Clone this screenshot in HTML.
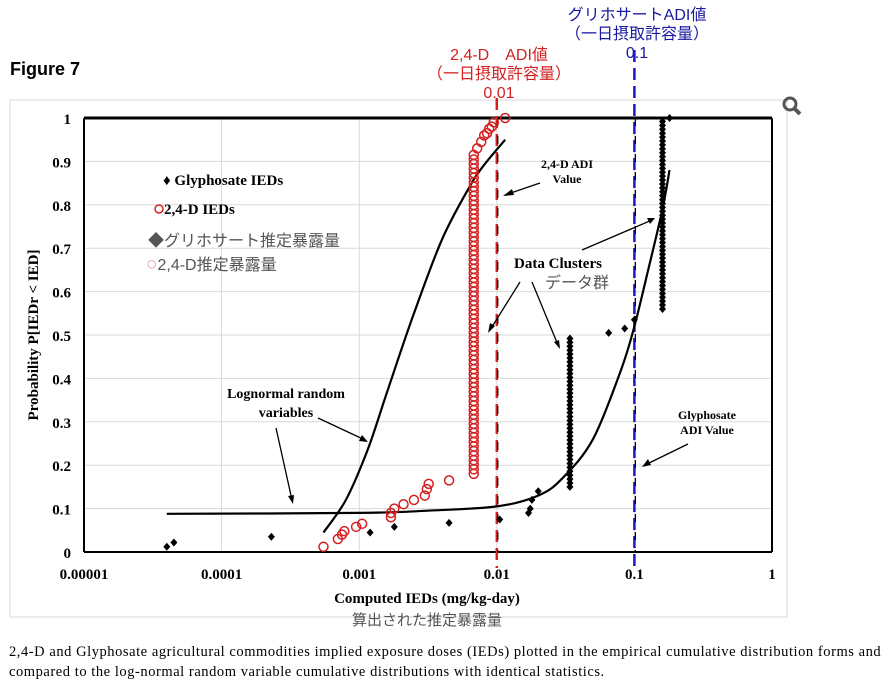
<!DOCTYPE html>
<html><head><meta charset="utf-8"><style>
body{margin:0;background:#fff;width:896px;height:684px;overflow:hidden;font-family:"Liberation Serif","Noto Serif CJK SC",serif}
.cap{position:absolute;left:9px;top:642px;font-size:14.5px;letter-spacing:0.55px;line-height:20px;color:#000;width:890px;white-space:nowrap;font-family:"Liberation Serif",serif}
.sans{font-family:"Liberation Sans","Noto Sans CJK JP",sans-serif}
.serif{font-family:"Liberation Serif","Noto Serif CJK SC",serif}
</style></head><body>
<svg id="chart" width="896" height="640" style="position:absolute;left:0;top:0">
<text x="10" y="75" class="sans" font-weight="bold" font-size="18">Figure 7</text>
<rect x="10" y="100" width="777" height="517" fill="none" stroke="#d8d8d8"/>
<g id="grid"></g>
<g id="axes" class="serif"></g>
<g id="series"></g>
<g id="annot" class="serif" font-weight="bold" font-size="14">
<text text-anchor="middle" fill="#1a1aa0" class="sans" font-size="16" font-weight="normal"><tspan x="637" y="20">グリホサートADI値</tspan><tspan x="637" dy="19">（一日摂取許容量）</tspan><tspan x="637" dy="19">0.1</tspan></text>
<text text-anchor="middle" fill="#d42020" class="sans" font-size="16" font-weight="normal"><tspan x="499" y="60">2,4-D　ADI値</tspan><tspan x="499" dy="19">（一日摂取許容量）</tspan><tspan x="499" dy="19">0.01</tspan></text>
<text x="163" y="185" font-size="15">♦ Glyphosate IEDs</text>
<circle cx="159" cy="209" r="4" fill="none" stroke="#d42020" stroke-width="1.5"/>
<text x="164" y="214" font-size="15">2,4-D IEDs</text>
<text x="148" y="246" font-weight="normal" font-size="16" fill="#555" class="sans">◆グリホサート推定暴露量</text>
<text x="146" y="270" font-weight="normal" font-size="16" fill="#555" class="sans"><tspan fill="#e8a0a0" font-size="19">○</tspan>2,4-D推定暴露量</text>
<text x="567" y="168" text-anchor="middle" font-size="12"><tspan x="567">2,4-D ADI</tspan><tspan x="567" dy="15">Value</tspan></text>
<text x="558" y="268" text-anchor="middle" font-size="15">Data Clusters</text>
<text x="577" y="288" text-anchor="middle" font-weight="normal" font-size="16" fill="#555" class="sans">データ群</text>
<text x="286" y="398" text-anchor="middle" font-size="14"><tspan x="286">Lognormal random</tspan><tspan x="286" dy="19">variables</tspan></text>
<text x="707" y="419" text-anchor="middle" font-size="12"><tspan x="707">Glyphosate</tspan><tspan x="707" dy="15">ADI Value</tspan></text>
<text x="427" y="603" text-anchor="middle" font-size="15">Computed IEDs (mg/kg-day)</text>
<text x="427" y="625" text-anchor="middle" font-weight="normal" font-size="15" fill="#555" class="sans">算出された推定暴露量</text>
<text transform="translate(38,335) rotate(-90)" text-anchor="middle" font-size="15">Probability P[IEDr &lt; IED]</text>
<g stroke="#000" stroke-width="1.3" fill="none">
<path d="M540 183 L505 195"/><path d="M520 282 L490 330"/><path d="M532 282 L558 345"/><path d="M582 250 L652 220"/>
<path d="M318 418 L365 440"/><path d="M276 428 L292 500"/><path d="M688 444 L645 465"/>
</g>
<g fill="#000">
<path d="M503 196 l9 -7 l2 6z"/><path d="M488 333 l2 -10 l5 3z"/><path d="M560 349 l-6 -7 l5 -2z"/><path d="M655 218 l-8 0 l3 6z"/>
<path d="M368 442 l-9 -1 l3 -6z"/><path d="M293 504 l-5 -8 l6 -1z"/><path d="M642 467 l6 -8 l3 6z"/>
</g>
<g transform="translate(790,104)"><circle r="6" fill="none" stroke="#555" stroke-width="3"/><line x1="4" y1="4" x2="10" y2="10" stroke="#555" stroke-width="4"/></g>
</g>
</svg>
<div class="cap">2,4-D and Glyphosate agricultural commodities implied exposure doses (IEDs) plotted in the empirical cumulative distribution forms and<br>compared to the log-normal random variable cumulative distributions with identical statistics.</div>
<script>
const xTickLabels=["0.00001","0.0001","0.001","0.01","0.1","1"];
const yTickLabels=["0","0.1","0.2","0.3","0.4","0.5","0.6","0.7","0.8","0.9","1"];
const glyphX=[0.00004,0.000045,0.00023,0.0012,0.0018,0.0045,0.0105,0.017,0.0175,0.018,0.02,0.065,0.085,0.1,0.18];
const glyphP=[0.012,0.022,0.035,0.045,0.058,0.067,0.075,0.09,0.1,0.12,0.14,0.505,0.515,0.535,1.0];
const glyphColX=[0.034,0.16];
const glyphColLo=[0.15,0.56];
const glyphColHi=[0.5,0.995];
const redX=[0.00055,0.0007,0.00075,0.00078,0.00095,0.00105,0.0017,0.0017,0.0018,0.0021,0.0025,0.003,0.0031,0.0032,0.0045,0.0072,0.0077,0.0081,0.0085,0.0088,0.0092,0.0095,0.0115];
const redP=[0.012,0.03,0.04,0.048,0.058,0.065,0.08,0.09,0.1,0.11,0.12,0.13,0.145,0.157,0.165,0.93,0.945,0.96,0.965,0.975,0.98,0.99,1.0];
const redColX=0.0068;
const redColLo=0.18, redColHi=0.92;
const glyphCurveX=[0.00004,0.001,0.003,0.01,0.02,0.03,0.05,0.08,0.1,0.126,0.16,0.18];
const glyphCurveP=[0.088,0.09,0.095,0.105,0.13,0.17,0.26,0.42,0.52,0.65,0.79,0.88];
const dCurveX=[0.00055,0.0008,0.00115,0.0016,0.0025,0.004,0.0063,0.008,0.0115];
const dCurveP=[0.045,0.12,0.235,0.37,0.55,0.72,0.84,0.89,0.95];
const adiX=[0.01,0.1];
const NS="http://www.w3.org/2000/svg";
const X0=84,X1=772,Y0=552,Y1=118;
const xs=v=>X0+(Math.log10(v)+5)/5*(X1-X0);
const ys=p=>Y0-p*(Y0-Y1);
function mk(tag,attrs,parent){const e=document.createElementNS(NS,tag);for(const k in attrs)e.setAttribute(k,attrs[k]);document.getElementById(parent).appendChild(e);return e;}
xTickLabels.forEach((t,i)=>{const x=xs(parseFloat(t));
 const g=mk('line',{x1:x,x2:x,y1:Y1,y2:Y0,stroke:'#d9d9d9'},'grid');
 
 
 const l=mk('text',{x:x,y:Y0+27,'text-anchor':'middle','font-size':'15','font-weight':'bold'},'axes');l.textContent=t;
 
 });
yTickLabels.forEach(t=>{const y=ys(parseFloat(t));
 const g=mk('line',{x1:X0,x2:X1,y1:y,y2:y,stroke:'#d9d9d9'},'grid');
 
 
 const l=mk('text',{x:71,y:y+6,'text-anchor':'end','font-size':'15','font-weight':'bold'},'axes');l.textContent=t;
 
 });
let a=mk('line',{x1:X0,x2:X1,y1:Y1,y2:Y1,stroke:'#000','stroke-width':3},'axes');


a=mk('line',{x1:X0,x2:X1,y1:Y0,y2:Y0,stroke:'#000','stroke-width':2},'axes');


a=mk('line',{x1:X0,x2:X0,y1:Y1,y2:Y0,stroke:'#000','stroke-width':2},'axes');


a=mk('line',{x1:X1,x2:X1,y1:Y1,y2:Y0,stroke:'#000','stroke-width':2},'axes');


[['#d42020',adiX[0],'adi-line-24d'],['#1a1ac0',adiX[1],'adi-line-glyphosate']].forEach(([c,v,n])=>{const x=xs(v);
 const e=mk('line',{x1:x,x2:x,y1:n==='adi-line-24d'?98:50,y2:568,stroke:c,'stroke-width':2.5,'stroke-dasharray':'12 6'},'series');
 
 
 const k=mk('line',{x1:x+1,x2:x+1,y1:Y1,y2:Y0,stroke:'#000','stroke-width':1.2,'stroke-dasharray':'8 10'},'series');
 
 });
function curve(X,P,n){const pts=X.map((v,i)=>[xs(v),ys(P[i])]);
 let d='M'+pts[0][0].toFixed(1)+' '+pts[0][1].toFixed(1);
 for(let i=0;i<pts.length-1;i++){const p0=pts[Math.max(0,i-1)],p1=pts[i],p2=pts[i+1],p3=pts[Math.min(pts.length-1,i+2)];
  const c1=[p1[0]+(p2[0]-p0[0])/6,p1[1]+(p2[1]-p0[1])/6],c2=[p2[0]-(p3[0]-p1[0])/6,p2[1]-(p3[1]-p1[1])/6];
  d+=` C${c1[0].toFixed(1)} ${c1[1].toFixed(1)} ${c2[0].toFixed(1)} ${c2[1].toFixed(1)} ${p2[0].toFixed(1)} ${p2[1].toFixed(1)}`;}
 const e=mk('path',{d:d,fill:'none',stroke:'#000','stroke-width':2.2,'stroke-linejoin':'round'},'series');
 
 }
curve(glyphCurveX,glyphCurveP,'glyphosate-lognormal-curve');
curve(dCurveX,dCurveP,'24d-lognormal-curve');
function circ(v,p){const e=mk('circle',{cx:xs(v),cy:ys(p),r:4.5,fill:'none',stroke:'#d42020','stroke-width':1.5},'series');
 
 }
function dia(v,p){const x=xs(v),y=ys(p);
 const e=mk('path',{d:`M${x} ${y-4}L${x+3.5} ${y}L${x} ${y+4}L${x-3.5} ${y}Z`,fill:'#000'},'series');
 
 }
for(let p=redColLo;p<=redColHi+1e-9;p+=0.0105)circ(redColX,p);
redX.forEach((v,i)=>circ(v,redP[i]));
glyphColX.forEach((v,j)=>{for(let p=glyphColLo[j];p<=glyphColHi[j]+1e-9;p+=0.009)dia(v,p);});
glyphX.forEach((v,i)=>dia(v,glyphP[i]));
</script>
</body></html>
